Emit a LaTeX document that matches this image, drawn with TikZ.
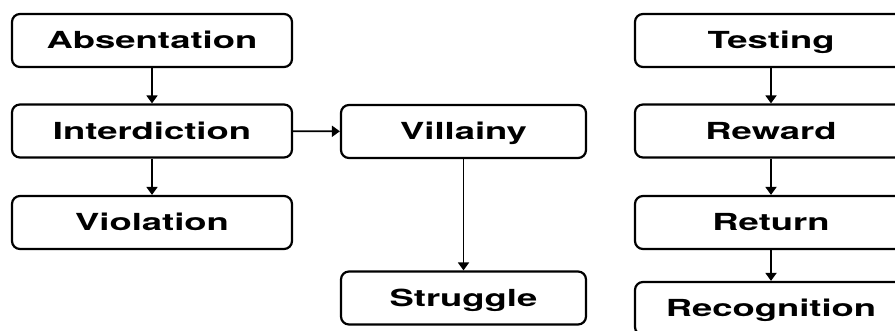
\documentclass[tikz,border=0pt]{standalone}
\usepackage{fontspec}
\usepackage{graphicx}
\setmainfont{TeX Gyre Heros}
\usetikzlibrary{arrows.meta}
\newcommand\wlbl[1]{\scalebox{1.55}[1]{\bfseries #1}}
\tikzset{
  stage/.style={draw=black, line width=2.2pt, rounded corners=8pt, fill=white,
    minimum height=53pt, inner sep=0pt, text height=16.5pt, text depth=0pt,
    font=\fontsize{23.5}{23.5}\selectfont},
  wide/.style={stage, minimum width=280pt},
  mid/.style={stage, minimum width=245pt},
  rgt/.style={stage, minimum width=272pt},
  flow/.style={line width=1.8pt, -{Triangle[length=8pt,width=11pt]}}
}
\begin{document}
\begin{tikzpicture}[x=1pt,y=-1pt]
\useasboundingbox (0,0) rectangle (895,331);
\clip (0,0) rectangle (895,331);
\fill[white] (0,0) rectangle (895,331);
\node[wide] (abs) at (152,40.5) {\wlbl{Absentation}};
\node[wide] (int) at (152,131) {\wlbl{Interdiction}};
\node[wide] (vio) at (152,222.5) {\wlbl{Violation}};
\node[mid] (vil) at (463.5,131.5) {\wlbl{Villainy}};
\node[mid] (str) at (463.5,298) {\wlbl{Struggle}};
\node[rgt] (tes) at (771,40.5) {\wlbl{Testing}};
\node[rgt] (rew) at (771,131) {\wlbl{Reward}};
\node[rgt] (ret) at (771,222.5) {\wlbl{Return}};
\node[rgt] (rec) at (771,308.5) {\wlbl{Recognition}};
\draw[flow] (abs) -- (int);
\draw[flow] (int) -- (vio);
\draw[flow] (int) -- (vil);
\draw[flow] (vil) -- (str);
\draw[flow] (tes) -- (rew);
\draw[flow] (rew) -- (ret);
\draw[flow] (ret) -- (rec);
\end{tikzpicture}
\end{document}
